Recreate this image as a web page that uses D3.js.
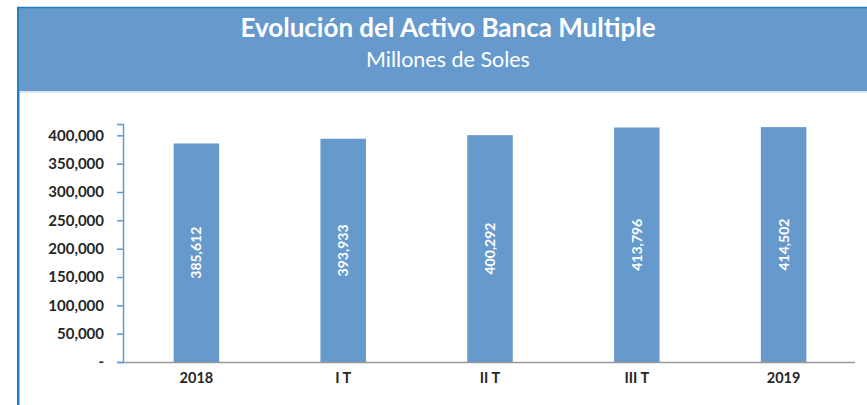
<!DOCTYPE html>
<html>
<head>
<meta charset="utf-8">
<script src="https://cdn.jsdelivr.net/npm/d3@7"></script>
<style>
  body { margin: 0; background: #fff; }
  svg { display: block; font-family: Lato, 'Open Sans', sans-serif; }
</style>
</head>
<body>
<svg id="chart" width="867" height="405"></svg>
<script>
const categories = ['2018', 'I T', 'II T', 'III T', '2019']
const values = [385612, 393933, 400292, 413796, 414502]
const yTicks = [0, 50000, 100000, 150000, 200000, 250000, 300000, 350000, 400000]

const BAR_COLOR = '#6699cc'
const HEADER_COLOR = '#6699cc'
const BORDER_COLOR = '#1f7fc4'

const svg = d3.select('#chart')

// header box
svg.append('rect')
    .attr('x', 17).attr('y', 7)
    .attr('width', 850).attr('height', 84)
    .attr('fill', HEADER_COLOR)
svg.append('line')
    .attr('x1', 17).attr('x2', 867).attr('y1', 7.5).attr('y2', 7.5)
    .attr('stroke', BORDER_COLOR).attr('stroke-width', 1.5)
svg.append('line')
    .attr('x1', 17).attr('x2', 867).attr('y1', 92).attr('y2', 92)
    .attr('stroke', '#dde6f0').attr('stroke-width', 2)
svg.append('line')
    .attr('x1', 18).attr('x2', 18).attr('y1', 7).attr('y2', 405)
    .attr('stroke', BORDER_COLOR).attr('stroke-width', 2)
svg.append('line')
    .attr('x1', 19.5).attr('x2', 19.5).attr('y1', 91).attr('y2', 405)
    .attr('stroke', '#7fc1ea').attr('stroke-width', 1)

svg.append('text')
    .attr('x', 448).attr('y', 37)
    .attr('text-anchor', 'middle')
    .attr('fill', '#fff')
    .attr('font-weight', 'bold')
    .attr('font-size', 26)
    .text('Evolución del Activo Banca Multiple')
svg.append('text')
    .attr('x', 448).attr('y', 67)
    .attr('text-anchor', 'middle')
    .attr('fill', '#fff')
    .attr('font-size', 21.5)
    .text('Millones de Soles')

// plot
const x = d3.scaleBand()
    .domain(categories)
    .range([123, 857])
    .paddingInner(0.69)
    .paddingOuter(0.345)

const y = d3.scaleLinear()
    .domain([0, 420000])
    .range([362, 124])

const yAxis = svg.append('g')
    .attr('transform', 'translate(123,0)')
    .call(d3.axisLeft(y)
        .tickValues(yTicks)
        .tickSize(6)
        .tickFormat(d => d === 0 ? '-' : d3.format(',')(d)))
yAxis.select('.domain').attr('stroke', '#5b9bd5').attr('stroke-width', 1.5)
yAxis.selectAll('.tick line').attr('stroke', '#5b9bd5').attr('stroke-width', 1.5)
yAxis.selectAll('.tick text')
    .attr('x', -19)
    .attr('fill', '#262626')
    .attr('font-size', 15)
    .attr('font-weight', 'bold')
    .attr('font-family', 'Lato, sans-serif')

svg.selectAll('.bar')
    .data(values)
    .enter()
    .append('rect')
    .attr('class', 'bar')
    .attr('x', (d, i) => x(categories[i]))
    .attr('y', d => y(d))
    .attr('width', x.bandwidth())
    .attr('height', d => y(0) - y(d))
    .attr('fill', BAR_COLOR)

svg.selectAll('.bar-label')
    .data(values)
    .enter()
    .append('text')
    .attr('class', 'bar-label')
    .attr('transform', (d, i) => `translate(${x(categories[i]) + x.bandwidth() / 2 + 5},${(y(d) + y(0)) / 2}) rotate(-90)`)
    .attr('text-anchor', 'middle')
    .attr('fill', '#fff')
    .attr('font-size', 14)
    .attr('font-weight', 'bold')
    .text(d => d3.format(',')(d))

// x axis
svg.append('line')
    .attr('x1', 123).attr('x2', 855)
    .attr('y1', y(0) + 0.5).attr('y2', y(0) + 0.5)
    .attr('stroke', '#999').attr('stroke-width', 1.5)

svg.selectAll('.x-label')
    .data(categories)
    .enter()
    .append('text')
    .attr('class', 'x-label')
    .attr('x', d => x(d) + x.bandwidth() / 2)
    .attr('y', 383)
    .attr('text-anchor', 'middle')
    .attr('fill', '#262626')
    .attr('font-size', 14.5)
    .attr('font-weight', 'bold')
    .text(d => d)
</script>
</body>
</html>
